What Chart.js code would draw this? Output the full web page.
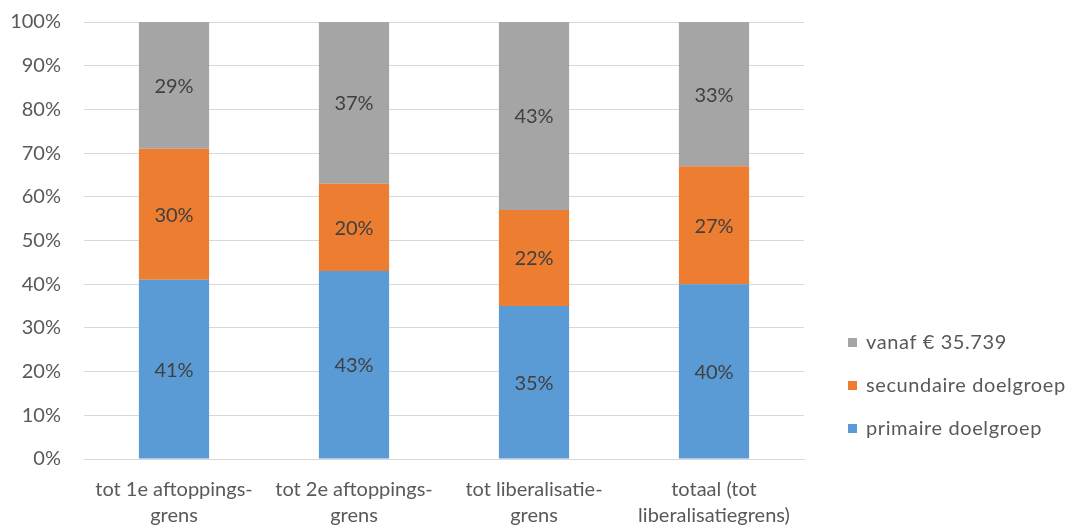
<!DOCTYPE html>
<html>
<head>
<meta charset="utf-8">
<script src="https://cdn.jsdelivr.net/npm/chart.js@4"></script>
<style>
  html, body { margin: 0; padding: 0; background: #ffffff; }
  #wrap { position: relative; width: 1075px; height: 529px; }
</style>
</head>
<body>
<div id="wrap"><canvas id="myBarChart"></canvas></div>
<script>
const categories = [
  ['tot 1e aftoppings-', 'grens'],
  ['tot 2e aftoppings-', 'grens'],
  ['tot liberalisatie-', 'grens'],
  ['totaal (tot', 'liberalisatiegrens)']
];
const primaire = [41, 43, 35, 40];
const secundaire = [30, 20, 22, 27];
const vanaf = [29, 37, 43, 33];
const yTicks = [0, 10, 20, 30, 40, 50, 60, 70, 80, 90, 100];

const textColor = '#595959';
const fontFamily = 'Lato, "Open Sans", sans-serif';

// value labels in the middle of each segment
const segmentLabels = {
  id: 'segmentLabels',
  afterDatasetsDraw(chart) {
    const ctx = chart.ctx;
    ctx.save();
    ctx.font = '20px ' + fontFamily;
    ctx.fillStyle = '#404040';
    ctx.textAlign = 'center';
    ctx.textBaseline = 'middle';
    chart.data.datasets.forEach((ds, i) => {
      chart.getDatasetMeta(i).data.forEach((bar, j) => {
        const p = bar.getProps(['x', 'y', 'base'], true);
        ctx.fillText(ds.data[j] + '%', p.x, (p.y + p.base) / 2 + 1);
      });
    });
    ctx.restore();
  }
};

// legend on the right, top item = last dataset
const sideLegend = {
  id: 'sideLegend',
  afterDraw(chart) {
    const ctx = chart.ctx;
    const left = chart.chartArea.right + 44;
    let y = 342;
    ctx.save();
    ctx.font = '20px ' + fontFamily;
    ctx.letterSpacing = '0.6px';
    ctx.textBaseline = 'middle';
    ctx.textAlign = 'left';
    chart.data.datasets.slice().reverse().forEach(ds => {
      ctx.fillStyle = ds.backgroundColor;
      ctx.fillRect(left, y - 4, 9, 9);
      ctx.fillStyle = textColor;
      ctx.fillText(ds.label, left + 18, y + 1);
      y += 43;
    });
    ctx.restore();
  }
};

new Chart(document.getElementById('myBarChart'), {
  type: 'bar',
  data: {
    labels: categories,
    datasets: [
      { label: 'primaire doelgroep', data: primaire, backgroundColor: '#5B9BD5' },
      { label: 'secundaire doelgroep', data: secundaire, backgroundColor: '#ED7D31' },
      { label: 'vanaf € 35.739', data: vanaf, backgroundColor: '#A5A5A5' }
    ]
  },
  options: {
    responsive: true,
    maintainAspectRatio: false,
    animation: false,
    layout: { padding: { top: 22, right: 271, bottom: 0, left: 0 } },
    datasets: { bar: { categoryPercentage: 1, barPercentage: 0.39 } },
    plugins: {
      legend: { display: false },
      tooltip: { enabled: false }
    },
    scales: {
      x: {
        stacked: true,
        grid: { display: false },
        border: { color: '#D9D9D9' },
        ticks: {
          color: textColor,
          padding: 10,
          maxRotation: 0,
          font: { family: fontFamily, size: 20, lineHeight: 1.3 }
        },
        afterFit(scale) { scale.height = 70; }
      },
      y: {
        stacked: true,
        min: 0,
        max: 100,
        afterBuildTicks(scale) { scale.ticks = yTicks.map(v => ({ value: v })); },
        grid: { color: '#D9D9D9', drawTicks: false },
        border: { display: false },
        ticks: {
          color: textColor,
          padding: 23,
          font: { family: fontFamily, size: 20 },
          callback: v => v + '%'
        },
        afterFit(scale) { scale.width = 84; scale.paddingTop = 0; }
      }
    }
  },
  plugins: [segmentLabels, sideLegend]
});
</script>
</body>
</html>
